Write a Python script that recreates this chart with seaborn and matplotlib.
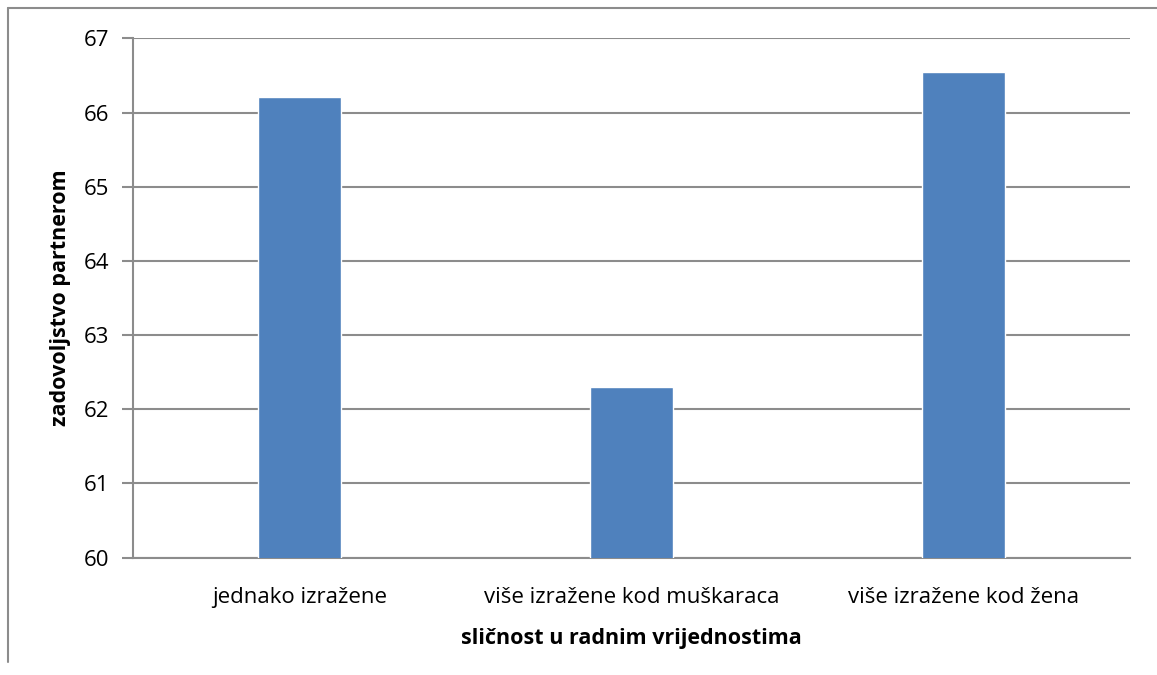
import numpy as np
import pandas as pd
import matplotlib
matplotlib.use("Agg")
import matplotlib.pyplot as plt
from matplotlib.lines import Line2D
import seaborn as sns

categories = ["jednako izražene", "više izražene kod muškaraca", "više izražene kod žena"]
values = [66.21, 62.3, 66.55]
yticks = [60, 61, 62, 63, 64, 65, 66, 67]

df = pd.DataFrame({"kategorija": categories, "vrijednost": values})

sns.set_style("white")
plt.rcParams["font.family"] = ["Open Sans", "DejaVu Sans"]
plt.rcParams["text.color"] = "black"
plt.rcParams["axes.labelcolor"] = "black"

grid_col = "#8c8c8c"
fig = plt.figure(figsize=(11.57, 6.75), dpi=100)
ax = fig.add_axes([0.115, 0.174, 0.8617, 0.769])

sns.barplot(data=df, x="kategorija", y="vrijednost", color="#4F81BD",
            width=0.25, saturation=1, ax=ax, zorder=3)

ax.set_ylim(60, 67)
ax.set_yticks(yticks)
ax.set_xlim(-0.5, 2.5)
ax.yaxis.grid(True, color=grid_col, linewidth=1.5, zorder=0)
ax.set_axisbelow(True)
for s in ["top", "right"]:
    ax.spines[s].set_visible(False)
for s in ["left", "bottom"]:
    ax.spines[s].set_color(grid_col)
    ax.spines[s].set_linewidth(1.5)
ax.tick_params(axis="y", left=True, length=8, width=1.5, color=grid_col,
               labelcolor="black", labelsize=16, pad=9)
ax.tick_params(axis="x", bottom=False, labelcolor="black", labelsize=16, pad=18)
ax.set_xlabel("sličnost u radnim vrijednostima", fontsize=15.5, fontweight="bold",
              color="black", labelpad=14)
ax.set_ylabel("zadovoljstvo partnerom", fontsize=15.5, fontweight="bold",
              color="black", labelpad=9)

# outer chart border
fig.add_artist(Line2D([0.0065, 0.0065], [0.02, 0.988], color=grid_col, linewidth=1.5,
                      transform=fig.transFigure))
fig.add_artist(Line2D([0.0065, 1.0], [0.988, 0.988], color=grid_col, linewidth=1.5,
                      transform=fig.transFigure))

fig.savefig("out.png", dpi=100)
